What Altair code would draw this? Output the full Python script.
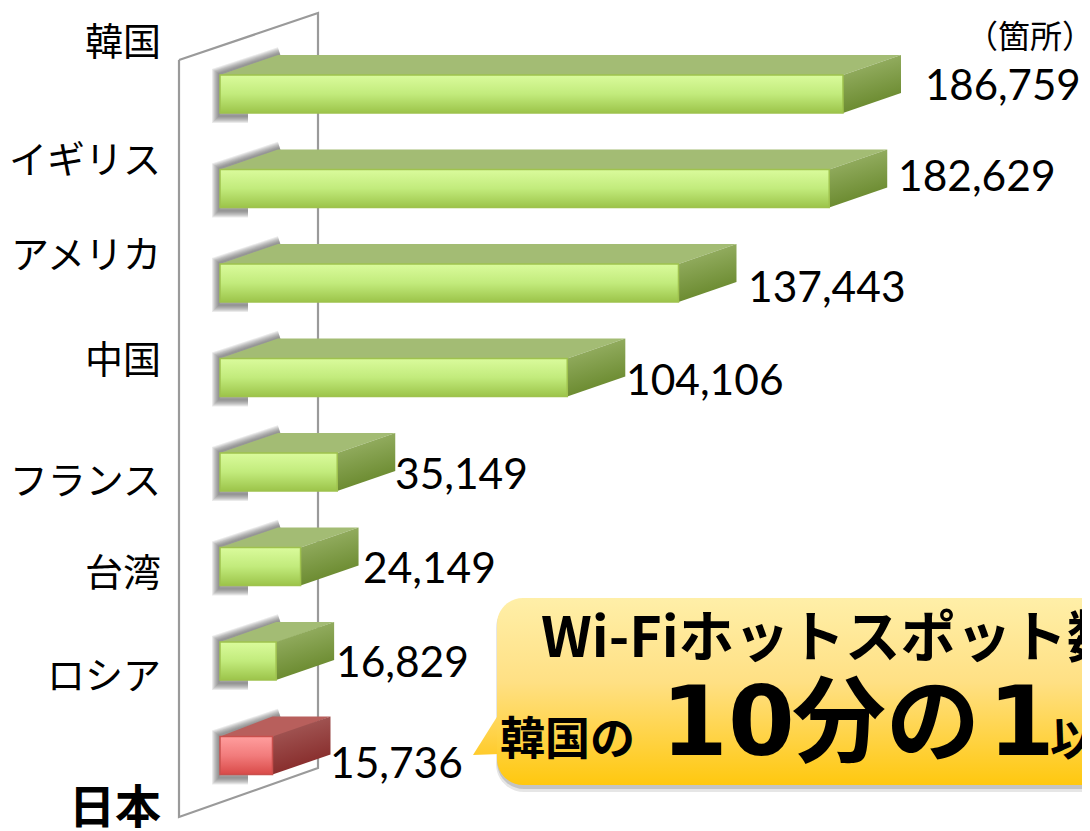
import altair as alt
import pandas as pd

# ---- data ----
countries = ["韓国", "イギリス", "アメリカ", "中国", "フランス", "台湾", "ロシア", "日本"]
hotspots = [186759, 182629, 137443, 104106, 35149, 24149, 16829, 15736]
unit_label = "（箇所）"

# ---- layout (page pixels) ----
W, H = 1074, 823
K = 623 / 186759          # pixels per hotspot
X0, Y0, ROW = 220, 75, 94.5
THICK, DX, DY = 38, 58, 20
cat_y = [44, 162, 257, 362, 483, 575, 678, 809]
lab_x = [925, 898, 748, 626, 395, 363, 336, 330]
lab_y = [87, 178, 289, 382, 476, 570, 664, 765]
wall = [(179, 60), (318, 13), (318, 768), (179, 817), (179, 60)]


def vx(px):
    return (px - X0) / K


def vy(py):
    return (py - Y0) / ROW


xs = alt.Scale(domain=[vx(8), vx(8 + W)], nice=False, zero=False)
ys = alt.Scale(domain=[vy(8 + H), vy(8)], nice=False, zero=False)
X = lambda f: alt.X(f, type="quantitative", scale=xs, axis=None)
Y = lambda f: alt.Y(f, type="quantitative", scale=ys, axis=None)


def grad(stops, x2=0, y2=1):
    return alt.Gradient(
        gradient="linear", x1=0, y1=0, x2=x2, y2=y2,
        stops=[alt.GradientStop(offset=o, color=c) for o, c in stops],
    )


def poly_line(pts, **kw):
    df = pd.DataFrame(
        {"x": [vx(p[0]) for p in pts], "y": [vy(p[1]) for p in pts], "o": range(len(pts))}
    )
    return alt.Chart(df).mark_line(interpolate="linear", **kw).encode(
        x=X("x"), y=Y("y"), order=alt.Order("o:Q")
    )


def area(rows, **kw):
    df = pd.DataFrame(
        {"x": [vx(r[0]) for r in rows], "y": [vy(r[1]) for r in rows], "y2": [vy(r[2]) for r in rows]}
    )
    return alt.Chart(df).mark_area(orient="vertical", interpolate="linear", **kw).encode(
        x=X("x"), y=Y("y"), y2=alt.Y2("y2")
    )


def text(s, px, py, size, font="Noto Sans CJK JP", weight="normal", align="left", baseline="alphabetic"):
    return alt.Chart(pd.DataFrame({"t": [s]})).mark_text(
        font=font, fontSize=size, fontWeight=weight, align=align, baseline=baseline, color="#000000"
    ).encode(x=alt.value(px - 8), y=alt.value(py - 8), text="t:N")


def px_rect(x, x2, y, y2, fill, radius=26, **kw):
    return alt.Chart(pd.DataFrame({"a": [0]})).mark_rect(
        color=fill, cornerRadius=radius, **kw
    ).encode(x=alt.value(x - 8), x2=alt.value(x2 - 8), y=alt.value(y - 8), y2=alt.value(y2 - 8))


layers = [poly_line(wall, color="#9a9a9a", strokeWidth=2.2)]

for i, v in enumerate(hotspots):
    top = Y0 + i * ROW
    bot = top + THICK
    xe = X0 + v * K
    red = countries[i] == "日本"
    # soft shadow on the wall
    sh = [(X0 + 28, bot + 3), (X0 - 1, bot + 3), (X0 - 1, top - 1), (X0 + DX + 2, top - DY - 1)]
    for w in (14, 12, 10, 8, 6, 4, 2):
        layers.append(poly_line(sh, color="#555555", strokeWidth=w, opacity=0.12, strokeCap="butt"))
    tcol = "#B85F5C" if red else "#A3BC74"
    stroke = "#C9504D" if red else "#9FC24E"
    side = (
        grad([(0, "#A96260"), (1, "#862A29")], x2=0.3) if red
        else grad([(0, "#A0B870"), (1, "#68882C")], x2=0.3)
    )
    front = (
        grad([(0, "#FF9E9E"), (0.5, "#F27C7C"), (1, "#D94A48")]) if red
        else grad([(0, "#DAFB9C"), (0.5, "#C2EB7C"), (1, "#9CC44A")])
    )
    # top face
    layers.append(area(
        [(X0, top, top), (X0 + DX, top - DY, top), (xe, top - DY, top), (xe + DX, top - DY, top - DY)],
        color=tcol,
    ))
    # side face
    layers.append(area([(xe, top, bot), (xe + DX, top - DY, bot - DY)], color=side))
    # front face
    fdf = pd.DataFrame({"a": [0], "b": [v], "t": [vy(top)], "u": [vy(bot)]})
    layers.append(alt.Chart(fdf).mark_rect(color=front, stroke=stroke, strokeWidth=1.5).encode(
        x=X("a"), x2=alt.X2("b"), y=Y("t"), y2=alt.Y2("u")
    ))

# category labels and values
for i, c in enumerate(countries):
    if c == "日本":
        layers.append(text(c, 161, cat_y[i], 46, weight="bold", align="right", baseline="middle"))
    else:
        layers.append(text(c, 161, cat_y[i], 38, align="right", baseline="middle"))
    size = 42 if i == 0 else 42.5
    layers.append(text(f"{hotspots[i]:,}", lab_x[i], lab_y[i], size, font="Lato", baseline="middle"))
layers.append(text(unit_label, 1030, 38, 32, align="center", baseline="middle"))

# callout
layers.append(px_rect(496, 1300, 600, 792, "#777777", radius=28, opacity=0.18))
layers.append(px_rect(497, 1300, 599, 789, "#777777", radius=27, opacity=0.3))
layers.append(area([(473, 755, 755), (500, 712, 754)],
                   color=grad([(0, "#FFDA66"), (1, "#FFCB2B")])))
layers.append(px_rect(497, 1300, 598, 785, grad([(0, "#FFEFA8"), (0.45, "#FFE084"), (1, "#FFC80F")])))
layers.append(text("Wi-Fiホットスポット数", 541, 657, 55.5, weight="bold"))
layers.append(text("韓国の", 500, 755, 45, weight="bold"))
layers.append(text("1", 661, 755, 96, font="DejaVu Sans", weight="bold"))
layers.append(text("0", 728, 755, 96, font="DejaVu Sans", weight="bold"))
layers.append(text("分の", 792, 755, 94, weight="bold"))
layers.append(text("1", 988, 755, 96, font="DejaVu Sans", weight="bold"))
layers.append(text("以", 1050, 755, 46, weight="bold"))

chart = alt.layer(*layers).properties(
    width=W, height=H, padding=0, background="#ffffff",
    autosize=alt.AutoSizeParams(type="none"),
).configure_view(stroke=None)

chart.save("out.html", embed_options={"renderer": "svg", "actions": False})
